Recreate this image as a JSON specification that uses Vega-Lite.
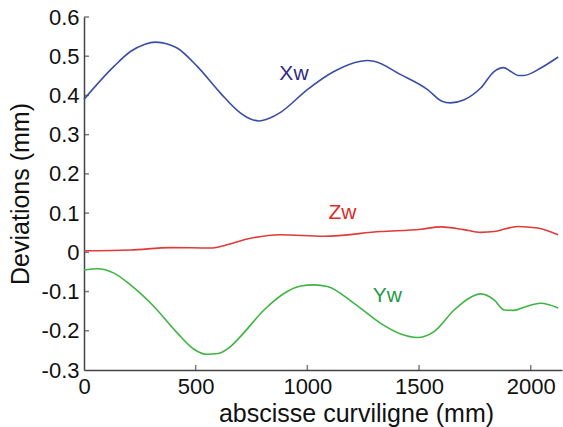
{
  "$schema": "https://vega.github.io/schema/vega-lite/v6.json",
  "width": 478,
  "height": 353,
  "autosize": {"type": "none"},
  "padding": {"left": 84, "top": 17, "right": 1, "bottom": 57},
  "background": "white",
  "config": {
    "view": {"stroke": null},
    "font": "Liberation Sans",
    "axis": {"grid": false, "domainColor": "#444", "tickColor": "#444", "labelColor": "#111", "titleColor": "#111", "labelFont": "Liberation Sans", "titleFont": "Liberation Sans", "titleFontWeight": "normal", "domainWidth": 1.5, "tickWidth": 1.5, "labelOverlap": false}
  },
  "datasets": {
    "curves": [
      {"s": "Xw", "x": 0, "y": 0.39}, {"s": "Xw", "x": 134, "y": 0.474}, {"s": "Xw", "x": 208, "y": 0.512}, {"s": "Xw", "x": 270, "y": 0.53}, {"s": "Xw", "x": 320, "y": 0.536}, {"s": "Xw", "x": 370, "y": 0.532}, {"s": "Xw", "x": 417, "y": 0.521}, {"s": "Xw", "x": 507, "y": 0.474}, {"s": "Xw", "x": 611, "y": 0.406}, {"s": "Xw", "x": 701, "y": 0.355}, {"s": "Xw", "x": 745, "y": 0.34}, {"s": "Xw", "x": 783, "y": 0.335}, {"s": "Xw", "x": 830, "y": 0.342}, {"s": "Xw", "x": 880, "y": 0.357}, {"s": "Xw", "x": 1000, "y": 0.415}, {"s": "Xw", "x": 1119, "y": 0.461}, {"s": "Xw", "x": 1239, "y": 0.487}, {"s": "Xw", "x": 1270, "y": 0.489}, {"s": "Xw", "x": 1298, "y": 0.487}, {"s": "Xw", "x": 1418, "y": 0.453}, {"s": "Xw", "x": 1538, "y": 0.415}, {"s": "Xw", "x": 1600, "y": 0.386}, {"s": "Xw", "x": 1640, "y": 0.381}, {"s": "Xw", "x": 1702, "y": 0.389}, {"s": "Xw", "x": 1776, "y": 0.419}, {"s": "Xw", "x": 1836, "y": 0.461}, {"s": "Xw", "x": 1878, "y": 0.471}, {"s": "Xw", "x": 1911, "y": 0.461}, {"s": "Xw", "x": 1945, "y": 0.451}, {"s": "Xw", "x": 1970, "y": 0.451}, {"s": "Xw", "x": 2045, "y": 0.47}, {"s": "Xw", "x": 2123, "y": 0.498},
      {"s": "Zw", "x": 0, "y": 0.004}, {"s": "Zw", "x": 208, "y": 0.006}, {"s": "Zw", "x": 388, "y": 0.012}, {"s": "Zw", "x": 567, "y": 0.011}, {"s": "Zw", "x": 626, "y": 0.017}, {"s": "Zw", "x": 731, "y": 0.034}, {"s": "Zw", "x": 880, "y": 0.045}, {"s": "Zw", "x": 1074, "y": 0.041}, {"s": "Zw", "x": 1328, "y": 0.053}, {"s": "Zw", "x": 1508, "y": 0.059}, {"s": "Zw", "x": 1597, "y": 0.065}, {"s": "Zw", "x": 1700, "y": 0.058}, {"s": "Zw", "x": 1776, "y": 0.051}, {"s": "Zw", "x": 1836, "y": 0.053}, {"s": "Zw", "x": 1941, "y": 0.066}, {"s": "Zw", "x": 2030, "y": 0.062}, {"s": "Zw", "x": 2123, "y": 0.045},
      {"s": "Yw", "x": 0, "y": -0.045}, {"s": "Yw", "x": 59, "y": -0.042}, {"s": "Yw", "x": 134, "y": -0.053}, {"s": "Yw", "x": 208, "y": -0.083}, {"s": "Yw", "x": 313, "y": -0.138}, {"s": "Yw", "x": 418, "y": -0.206}, {"s": "Yw", "x": 492, "y": -0.247}, {"s": "Yw", "x": 552, "y": -0.26}, {"s": "Yw", "x": 600, "y": -0.258}, {"s": "Yw", "x": 650, "y": -0.243}, {"s": "Yw", "x": 700, "y": -0.215}, {"s": "Yw", "x": 806, "y": -0.147}, {"s": "Yw", "x": 910, "y": -0.1}, {"s": "Yw", "x": 970, "y": -0.086}, {"s": "Yw", "x": 1030, "y": -0.083}, {"s": "Yw", "x": 1090, "y": -0.087}, {"s": "Yw", "x": 1209, "y": -0.13}, {"s": "Yw", "x": 1328, "y": -0.181}, {"s": "Yw", "x": 1418, "y": -0.208}, {"s": "Yw", "x": 1493, "y": -0.217}, {"s": "Yw", "x": 1567, "y": -0.202}, {"s": "Yw", "x": 1657, "y": -0.147}, {"s": "Yw", "x": 1730, "y": -0.115}, {"s": "Yw", "x": 1776, "y": -0.106}, {"s": "Yw", "x": 1836, "y": -0.121}, {"s": "Yw", "x": 1881, "y": -0.147}, {"s": "Yw", "x": 1926, "y": -0.148}, {"s": "Yw", "x": 1970, "y": -0.14}, {"s": "Yw", "x": 2045, "y": -0.13}, {"s": "Yw", "x": 2123, "y": -0.142}
    ],
    "labels": [
      {"s": "Xw", "x": 940, "y": 0.455},
      {"s": "Zw", "x": 1157, "y": 0.1},
      {"s": "Yw", "x": 1358, "y": -0.112}
    ],
    "xticks": [{"v": 500}, {"v": 1000}, {"v": 1500}, {"v": 2000}],
    "yticks": [{"v": -0.2}, {"v": -0.1}, {"v": 0}, {"v": 0.1}, {"v": 0.2}, {"v": 0.3}, {"v": 0.4}, {"v": 0.5}, {"v": 0.6}]
  },
  "layer": [
    {
      "data": {"name": "curves"},
      "mark": {"type": "line", "strokeWidth": 1.6, "interpolate": "monotone"},
      "encoding": {
        "x": {"field": "x", "type": "quantitative", "scale": {"domain": [0, 2140], "nice": false, "zero": false},
          "axis": {"values": [0, 500, 1000, 1500, 2000], "format": "d", "title": "abscisse curviligne (mm)", "labelFontSize": 22, "titleFontSize": 25, "ticks": false, "labelPadding": 6, "titlePadding": 4, "titleX": 272, "labelFlush": false, "labelOverlap": false}},
        "y": {"field": "y", "type": "quantitative", "scale": {"domain": [-0.3, 0.6], "nice": false},
          "axis": {"values": [-0.3, -0.2, -0.1, 0, 0.1, 0.2, 0.3, 0.4, 0.5, 0.6], "labelExpr": "datum.value == 0 ? '0' : (datum.value < 0 ? '-' : '') + format(abs(datum.value), '.1f')", "title": "Deviations (mm)", "labelFontSize": 22, "titleFontSize": 25, "ticks": false, "labelPadding": 5, "titlePadding": 8, "labelFlush": false, "labelOverlap": false}},
        "color": {"field": "s", "type": "nominal", "scale": {"domain": ["Xw", "Zw", "Yw"], "range": ["#3a4ea3", "#e03a3a", "#3fb443"]}, "legend": null},
        "detail": {"field": "s"}
      }
    },
    {
      "data": {"name": "labels"},
      "mark": {"type": "text", "fontSize": 21, "font": "Liberation Sans", "align": "center", "baseline": "middle"},
      "encoding": {
        "x": {"field": "x", "type": "quantitative", "axis": null},
        "y": {"field": "y", "type": "quantitative", "axis": null},
        "text": {"field": "s"},
        "color": {"field": "s", "type": "nominal", "scale": {"domain": ["Xw", "Zw", "Yw"], "range": ["#2e2d84", "#e02a2a", "#1f9a4a"]}, "legend": null}
      }
    },
    {
      "data": {"name": "xticks"},
      "mark": {"type": "tick", "orient": "vertical", "size": 5, "thickness": 1.5, "yOffset": -2.5, "color": "#444"},
      "encoding": {
        "x": {"field": "v", "type": "quantitative", "axis": null},
        "y": {"datum": -0.3, "type": "quantitative", "axis": null}
      }
    },
    {
      "data": {"name": "yticks"},
      "mark": {"type": "tick", "orient": "horizontal", "size": 5, "thickness": 1.5, "xOffset": 2.5, "color": "#444"},
      "encoding": {
        "y": {"field": "v", "type": "quantitative", "axis": null},
        "x": {"datum": 0, "type": "quantitative", "axis": null}
      }
    }
  ],
  "resolve": {"scale": {"color": "independent"}, "axis": {"x": "independent", "y": "independent"}}
}
